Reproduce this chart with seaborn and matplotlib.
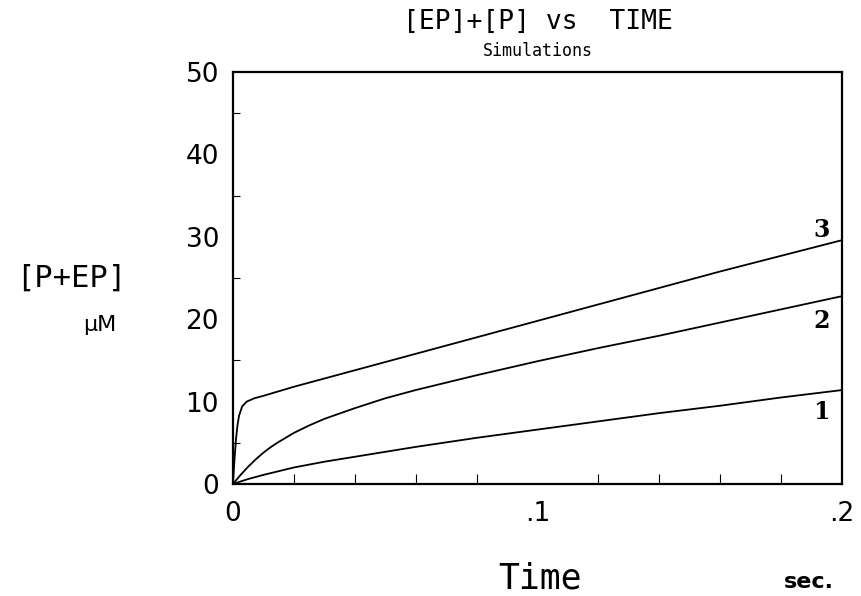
import numpy as np
import pandas as pd
import matplotlib
matplotlib.use("Agg")
import matplotlib.pyplot as plt
import seaborn as sns
from matplotlib.ticker import MultipleLocator, FixedLocator

# ---- data ----
t1 = [0.0, 0.005, 0.01, 0.02, 0.03, 0.04, 0.06, 0.08, 0.10, 0.12, 0.14, 0.16, 0.18, 0.20]
y1 = [0.0, 0.6, 1.1, 2.0, 2.7, 3.3, 4.5, 5.6, 6.6, 7.6, 8.6, 9.5, 10.5, 11.4]

t2 = [0.0, 0.0025, 0.005, 0.0075, 0.01, 0.0125, 0.015, 0.02, 0.025, 0.03,
      0.04, 0.05, 0.06, 0.07, 0.08, 0.10, 0.12, 0.14, 0.16, 0.18, 0.20]
y2 = [0.0, 1.1, 2.1, 3.0, 3.8, 4.5, 5.1, 6.2, 7.1, 7.9,
      9.2, 10.4, 11.4, 12.3, 13.2, 14.9, 16.5, 18.0, 19.6, 21.2, 22.8]

t3 = [0.0, 0.0005, 0.001, 0.0015, 0.002, 0.003, 0.0045, 0.007, 0.01, 0.02,
      0.04, 0.06, 0.08, 0.10, 0.12, 0.14, 0.16, 0.18, 0.20]
y3 = [0.0, 3.0, 5.5, 7.2, 8.3, 9.4, 10.0, 10.4, 10.7, 11.8,
      13.8, 15.8, 17.8, 19.8, 21.8, 23.8, 25.8, 27.7, 29.6]

curve_names = ["1", "2", "3"]
x_ticks = [0.0, 0.1, 0.2]
x_tick_labels = ["0", ".1", ".2"]
y_ticks = [0, 10, 20, 30, 40, 50]

df = pd.concat([
    pd.DataFrame({"t": t1, "v": y1, "curve": "1"}),
    pd.DataFrame({"t": t2, "v": y2, "curve": "2"}),
    pd.DataFrame({"t": t3, "v": y3, "curve": "3"}),
], ignore_index=True)

sns.set_style("ticks")
plt.rcParams["font.family"] = ["DejaVu Sans"]
plt.rcParams["text.color"] = "black"
plt.rcParams["xtick.color"] = "black"
plt.rcParams["ytick.color"] = "black"
plt.rcParams["xtick.labelcolor"] = "black"
plt.rcParams["ytick.labelcolor"] = "black"

fig = plt.figure(figsize=(8.61, 5.96), dpi=100)
ax = fig.add_axes([0.2706, 0.188, 0.7074, 0.691])

sns.lineplot(data=df, x="t", y="v", hue="curve", hue_order=curve_names,
             palette=["black"] * 3, linewidth=1.3, legend=False, ax=ax,
             estimator=None, sort=True)

ax.set_xlim(0, 0.2)
ax.set_ylim(0, 50)
ax.xaxis.set_major_locator(FixedLocator(x_ticks))
ax.set_xticklabels(x_tick_labels)
ax.xaxis.set_minor_locator(MultipleLocator(0.02))
ax.yaxis.set_major_locator(FixedLocator(y_ticks))
ax.yaxis.set_minor_locator(MultipleLocator(5))

ax.tick_params(axis="both", which="both", direction="in", color="black",
               labelcolor="black", labelsize=19, top=False, right=False)
ax.tick_params(axis="x", which="major", length=0, pad=12)
ax.tick_params(axis="x", which="minor", length=7, width=0.8)
ax.tick_params(axis="y", which="major", length=0, pad=10)
ax.tick_params(axis="y", which="minor", length=5, width=0.8)
for s in ax.spines.values():
    s.set_visible(True)
    s.set_linewidth(1.6)
    s.set_color("black")

ax.set_xlabel("")
ax.set_ylabel("")

mono = "DejaVu Sans Mono"
# titles and labels
fig.text(0.625, 0.963, "[EP]+[P] vs  TIME", ha="center", va="center",
         fontsize=19, family=mono)
fig.text(0.625, 0.914, "Simulations", ha="center", va="center",
         fontsize=12, family=mono)
fig.text(0.083, 0.533, "[P+EP]", ha="center", va="center", fontsize=22, family=mono)
fig.text(0.116, 0.455, "µM", ha="center", va="center", fontsize=16)
fig.text(0.627, 0.030, "Time", ha="center", va="center", fontsize=25, family=mono)
fig.text(0.94, 0.0134, "sec.", ha="center", va="baseline", fontsize=16, fontweight="bold")

# curve labels
for name, ys, yo, va in zip(curve_names, [y1, y2, y3], [-7, -9, -1.5],
                            ["top", "top", "bottom"]):
    ax.annotate(name, xy=(0.2, ys[-1]), xytext=(-15, yo), textcoords="offset points",
                ha="center", va=va, fontsize=17,
                fontweight="bold", family="DejaVu Serif", color="black")

fig.savefig("out.png", dpi=100, facecolor="white")
